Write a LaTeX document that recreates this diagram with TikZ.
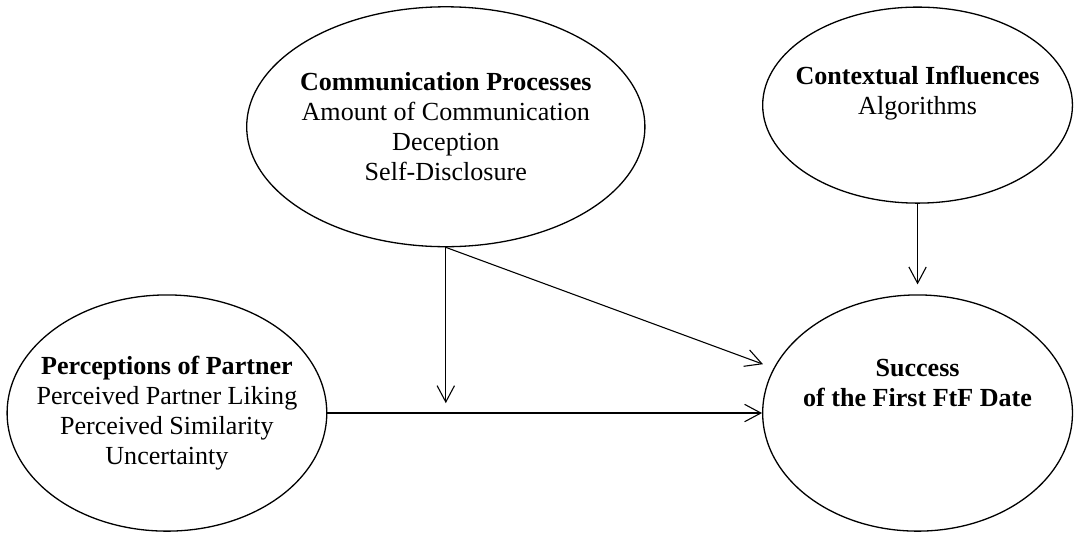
\documentclass[tikz,border=0pt]{standalone}
\usepackage{fontspec}
\setmainfont{Liberation Serif}
\usetikzlibrary{positioning,arrows.meta,shapes.geometric}

\begin{document}
\begin{tikzpicture}[
    construct/.style={draw, ellipse, line width=0.6pt, inner sep=0pt},
    items/.style={align=center, inner sep=0pt, font=\fontsize{12}{13.8}\selectfont},
    effect/.style={draw, line width=0.5pt, -{Straight Barb[length=7.5pt,width=8pt]}}
  ]
    \useasboundingbox (0,0) rectangle (17.37,8.62);
    % constructs, text set as a centred label so it does not widen the ellipse
    \node[construct, minimum width=6.44cm, minimum height=3.88cm,
      label={[items]center:{\textbf{Communication Processes}\\Amount of Communication\\Deception\\Self-Disclosure}}]
      (comm) at (7.21,6.57) {};
    \node[construct, minimum width=5.01cm, minimum height=3.17cm,
      label={[items]center:{\textbf{Contextual Influences}\\Algorithms\\~}}]
      (ctx) at (14.84,6.92) {};
    \node[construct, minimum width=5.17cm, minimum height=3.82cm,
      label={[items]center:{\textbf{Perceptions of Partner}\\Perceived Partner Liking\\Perceived Similarity\\Uncertainty}}]
      (perc) at (2.70,1.94) {};
    \node[construct, minimum width=5.01cm, minimum height=3.82cm,
      label={[items]center:{\textbf{Success}\\\textbf{of the First FtF Date}\\~\\~}}]
      (succ) at (14.84,1.94) {};
    % paths
    \coordinate (meet) at (7.21,2.10);
    \coordinate (reach) at (12.34,2.73);
    \draw[effect] (perc.east) -- (succ.west);
    \draw[effect] (comm.south) -- (meet);
    \draw[effect] (comm.south) -- (reach);
    \draw[effect, shorten >=0.16cm] (ctx.south) -- (succ.north);
  \end{tikzpicture}
\end{document}
